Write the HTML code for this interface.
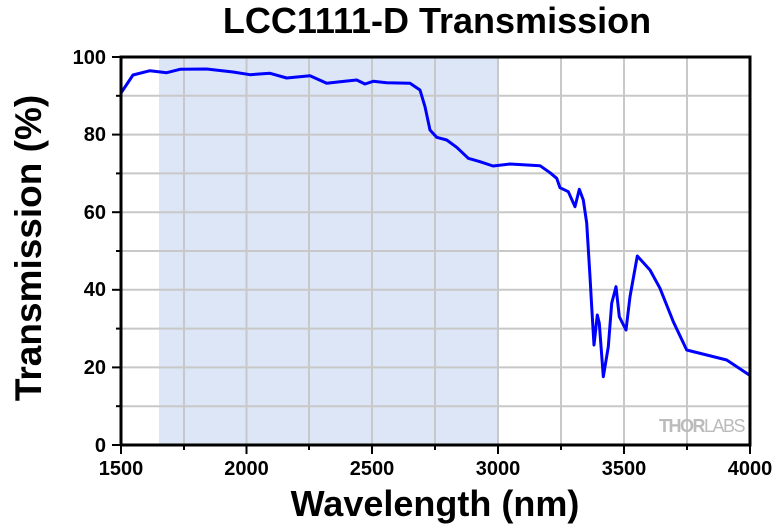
<!DOCTYPE html>
<html><head><style>body{margin:0;background:#fff}svg{display:block}</style></head><body>
<svg width="780" height="527" xmlns="http://www.w3.org/2000/svg" font-family="Liberation Sans, sans-serif" font-weight="bold">
<text x="437" y="33" font-size="36" text-anchor="middle">LCC1111-D Transmission</text>
<rect x="159" y="57" width="338" height="388" fill="#dce6f6"/>
<g stroke="#c8c8c8" stroke-width="2">
<line x1="184" y1="57" x2="184" y2="445"/><line x1="246.5" y1="57" x2="246.5" y2="445"/><line x1="309" y1="57" x2="309" y2="445"/><line x1="372" y1="57" x2="372" y2="445"/><line x1="435" y1="57" x2="435" y2="445"/><line x1="498" y1="57" x2="498" y2="445"/><line x1="561" y1="57" x2="561" y2="445"/><line x1="624" y1="57" x2="624" y2="445"/><line x1="687" y1="57" x2="687" y2="445"/>
<line x1="121" y1="95.8" x2="750" y2="95.8"/><line x1="121" y1="134.6" x2="750" y2="134.6"/><line x1="121" y1="173.4" x2="750" y2="173.4"/><line x1="121" y1="212.2" x2="750" y2="212.2"/><line x1="121" y1="251" x2="750" y2="251"/><line x1="121" y1="289.8" x2="750" y2="289.8"/><line x1="121" y1="328.6" x2="750" y2="328.6"/><line x1="121" y1="367.4" x2="750" y2="367.4"/><line x1="121" y1="406.2" x2="750" y2="406.2"/>
</g>
<text x="744" y="432" font-size="18" fill="#bbb" text-anchor="end" letter-spacing="-1.5">THOR<tspan font-weight="normal">LABS</tspan></text>
<polyline fill="none" stroke="#0000ff" stroke-width="3" stroke-linejoin="round" points="121,93 127,84 133,75 150,70.7 166.7,72.7 180,69.3 206.7,69 233,72 250,74.7 270,73.3 286.7,78 310,75.7 326.7,83.3 340,81.7 356.7,80 365,84 373.3,81.3 386.7,82.7 410,83.3 420,90 425,106.7 430,130 436.7,137.3 446.7,140 456.7,147.3 468.3,158.3 480,161.7 493,166 510,164 540,165.7 550,172.7 556.7,178.3 560,187.7 568.3,191.7 575,206.7 579.3,189.3 583.3,200 586.7,223 590,276.7 591.7,306.7 594,345 597.3,315 599.3,323.3 603.3,376.7 608.3,346.7 611.7,303.3 616,286.7 619.3,316.7 626,330 630,296.7 637.3,256 650,270 660,288.3 673.3,321.7 686.7,350 706.7,355 726.7,360 749.3,375"/>
<g stroke="#000" stroke-width="3" fill="none">
<path d="M121,445 V57 H750 V445 H121"/>
</g>
<g stroke="#000" stroke-width="2">
<line x1="112" y1="57" x2="121" y2="57"/><line x1="112" y1="134.6" x2="121" y2="134.6"/><line x1="112" y1="212.2" x2="121" y2="212.2"/><line x1="112" y1="289.8" x2="121" y2="289.8"/><line x1="112" y1="367.4" x2="121" y2="367.4"/><line x1="112" y1="445" x2="121" y2="445"/>
<line x1="116" y1="95.8" x2="121" y2="95.8"/><line x1="116" y1="173.4" x2="121" y2="173.4"/><line x1="116" y1="251" x2="121" y2="251"/><line x1="116" y1="328.6" x2="121" y2="328.6"/><line x1="116" y1="406.2" x2="121" y2="406.2"/>
<line x1="121" y1="445" x2="121" y2="454"/><line x1="246.5" y1="445" x2="246.5" y2="454"/><line x1="372" y1="445" x2="372" y2="454"/><line x1="498" y1="445" x2="498" y2="454"/><line x1="624" y1="445" x2="624" y2="454"/><line x1="750" y1="445" x2="750" y2="454"/>
<line x1="184" y1="445" x2="184" y2="450"/><line x1="309" y1="445" x2="309" y2="450"/><line x1="435" y1="445" x2="435" y2="450"/><line x1="561" y1="445" x2="561" y2="450"/><line x1="687" y1="445" x2="687" y2="450"/>
</g>
<g font-size="20" text-anchor="end">
<text x="106" y="64">100</text><text x="106" y="141">80</text><text x="106" y="219">60</text><text x="106" y="296">40</text><text x="106" y="374">20</text><text x="106" y="452">0</text>
</g>
<g font-size="20" text-anchor="middle">
<text x="121" y="475">1500</text><text x="246.5" y="475">2000</text><text x="372" y="475">2500</text><text x="498" y="475">3000</text><text x="624" y="475">3500</text><text x="750" y="475">4000</text>
</g>
<text x="435" y="516" font-size="36" text-anchor="middle">Wavelength (nm)</text>
<text transform="translate(41,248) rotate(-90)" font-size="37" text-anchor="middle">Transmission (%)</text>
</svg>
</body></html>
